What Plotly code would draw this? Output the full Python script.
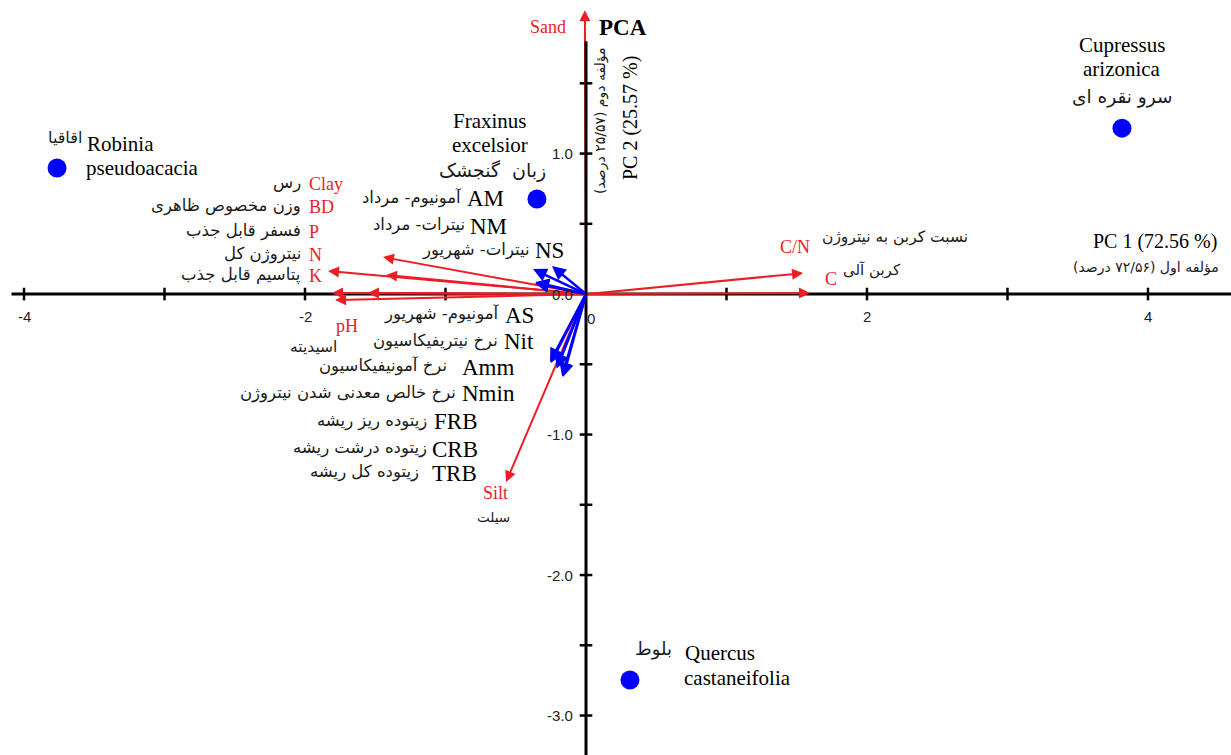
import plotly.graph_objects as go

# ---------------- data ----------------
species_en = ["Robinia<br>pseudoacacia", "Fraxinus<br>excelsior", "Cupressus<br>arizonica", "Quercus<br>castaneifolia"]
species_fa = ["اقاقیا", "زبان\u00a0\u00a0گنجشک", "سرو نقره ای", "بلوط"]
species_pc1 = [-3.765, -0.349, 3.815, 0.313]
species_pc2 = [0.897, 0.676, 1.181, -2.747]

soil_vars = ["Sand", "C/N", "C", "Silt", "N", "K", "Clay", "BD", "P", "pH"]
soil_pc1 = [-0.008, 1.545, 1.594, -0.569, -1.445, -1.836, -1.423, -1.808, -1.552, -1.786]
soil_pc2 = [2.02, 0.149, 0.007, -1.338, 0.263, 0.164, 0.135, 0.007, 0.007, -0.043]

n_vars = ["AM", "NM", "NS", "AS", "Nit", "Amm", "Nmin", "FRB", "CRB", "TRB"]
n_pc1 = [-0.377, -0.242, -0.363, -0.36, -0.256, -0.206, -0.164, -0.25, -0.21, -0.17]
n_pc2 = [0.178, 0.199, 0.078, 0.085, -0.484, -0.527, -0.591, -0.49, -0.53, -0.585]

x_ticks = [-4, -3, -2, -1, 1, 2, 3, 4]
x_tick_labels = ["-4", "", "-2", "", "", "2", "", "4"]
y_ticks = [1.5, 1.0, 0.5, 0.0, -0.5, -1.0, -1.5, -2.0, -2.5, -3.0]
y_tick_labels = ["", "1.0", "", "0.0", "", "-1.0", "", "-2.0", "", "-3.0"]

# ---------------- styling ----------------
W, H = 1231, 755
XR = [-4.171, 4.591]
YR = [-3.281, 2.093]
RED = "#ee1c24"
BLUE = "#0000ff"
SERIF = "Liberation Serif, Times New Roman, DejaVu Sans"
FA = "DejaVu Sans"
SANS = "Liberation Sans, Arial"

fig = go.Figure()
fig.add_trace(go.Scatter(x=species_pc1, y=species_pc2, mode="markers",
                         marker=dict(color=BLUE, size=19), hoverinfo="skip", showlegend=False))

ann = []

def arrow(x, y, color, width=2, head=2, x0=0, y0=0):
    ann.append(dict(x=x, y=y, ax=x0, ay=y0, xref="x", yref="y", axref="x", ayref="y",
                    text="", showarrow=True, arrowhead=head, arrowsize=1.1,
                    arrowwidth=width, arrowcolor=color, standoff=0, startstandoff=0))

# Sand arrow (under the black axis)
arrow(soil_pc1[0], soil_pc2[0], RED, 2)
# axes as plain lines
arrow(0, YR[0] - 0.05, "black", 3, head=0, x0=0, y0=1.81)
arrow(XR[1] + 0.05, 0, "black", 3, head=0, x0=-4.10, y0=0)

for i in range(1, len(soil_vars)):
    arrow(soil_pc1[i], soil_pc2[i], RED, 2)
for i in range(len(n_vars)):
    arrow(n_pc1[i], n_pc2[i], BLUE, 2.5)

shapes = []
for t in x_ticks:
    shapes.append(dict(type="line", xref="x", yref="y", x0=t, x1=t, y0=-0.045, y1=0.045,
                       line=dict(color="black", width=2.5)))
for t in y_ticks:
    if t == 0:
        continue
    shapes.append(dict(type="line", xref="x", yref="y", x0=-0.045, x1=0.045, y0=t, y1=t,
                       line=dict(color="black", width=2.5)))

for t, lab in zip(x_ticks, x_tick_labels):
    if lab:
        ann.append(dict(x=t, y=0, xref="x", yref="y", text=lab, showarrow=False,
                        yshift=-22, font=dict(family=SANS, size=15, color="#222")))
ann.append(dict(x=0, y=0, xref="x", yref="y", text="0", showarrow=False,
                xshift=5, yshift=-24, font=dict(family=SANS, size=15, color="#222")))
for t, lab in zip(y_ticks, y_tick_labels):
    if lab:
        ann.append(dict(x=0, y=t, xref="x", yref="y", text=lab, showarrow=False,
                        xanchor="right", xshift=-11, font=dict(family=SANS, size=15, color="#222")))

def label(px, py, text, size, color="black", anchor="left", family=SERIF, angle=0):
    ann.append(dict(x=px / W, y=1 - py / H, xref="paper", yref="paper", text=text,
                    showarrow=False, xanchor=anchor, yanchor="middle", textangle=angle,
                    font=dict(family=family, size=size, color=color)))

FA_COL = "#1a1a1a"

# titles
label(597, 27, "<b>PCA</b>", 23)
label(568, 27, soil_vars[0], 18, RED, "right")
label(630, 118, "PC 2 (25.57 %)", 20, anchor="center", angle=-90)
label(601, 121, "مؤلفه دوم (۲۵/۵۷ درصد)", 14, FA_COL, "center", FA, -90)
label(1219, 242, "PC 1 (72.56 %)", 20, anchor="right")
label(1221, 268, "مؤلفه اول (۷۲/۵۶ درصد)", 14, FA_COL, "right", FA)

# species labels (each line placed separately for tight line spacing)
sp_x = [85, 490, 1122, 683]
sp_y = [144, 121, 45, 653]
sp_gap = [24, 24, 24, 25]
sp_anchor = ["left", "center", "center", "left"]
for i, name in enumerate(species_en):
    for j, part in enumerate(name.split("<br>")):
        label(sp_x[i] - (1 if (sp_anchor[i] == "left" and j == 1) else 0),
              sp_y[i] + j * sp_gap[i], part, 21, anchor=sp_anchor[i])
label(84, 138, species_fa[0], 16, FA_COL, "right", FA)
label(492, 171, species_fa[1], 19, FA_COL, "center", FA)
label(1122, 97, species_fa[2], 18.5, FA_COL, "center", FA)
label(674, 649, species_fa[3], 18, FA_COL, "right", FA)

# soil labels
label(778, 247, soil_vars[1], 18, RED)
label(823, 279, soil_vars[2], 18, RED)
label(970, 238, "نسبت کربن به نیتروژن", 15.5, FA_COL, "right", FA)
label(903, 270, "کربن آلی", 15, FA_COL, "right", FA)
label(495, 493, soil_vars[3], 18, RED, "center")
label(493, 517, "سیلت", 13.5, FA_COL, "center", FA)
red_left = [("Clay", 184, "رس"), ("BD", 207, "وزن مخصوص ظاهری"), ("P", 232, "فسفر قابل جذب"),
            ("N", 255, "نیتروژن کل"), ("K", 276, "پتاسیم قابل جذب")]
for name, py, fa in red_left:
    label(307, py, name, 18, RED)
    label(303, py - 1, fa, 16.5, FA_COL, "right", FA)
label(347, 326, soil_vars[9], 18, RED, "center")
label(313, 347, "اسیدیته", 15.5, FA_COL, "center", FA)

# N-cycle labels
n_fa = ["آمونیوم- مرداد", "نیترات- مرداد", "نیترات- شهریور", "آمونیوم- شهریور", "نرخ نیتریفیکاسیون",
        "نرخ آمونیفیکاسیون", "نرخ خالص معدنی شدن نیتروژن", "زیتوده ریز ریشه", "زیتوده درشت ریشه",
        "زیتوده کل ریشه"]
n_lab_x = [465, 468, 533, 503, 502, 460, 460, 432, 430, 430]
n_lab_y = [199, 226, 251, 315, 342, 367, 394, 422, 449, 473]
n_fa_x = [464, 467, 532, 501, 500, 449, 458, 429, 429, 421]
for i in range(len(n_vars)):
    label(n_lab_x[i], n_lab_y[i], n_vars[i], 23)
    label(n_fa_x[i], n_lab_y[i] - 1, n_fa[i], 16.5, FA_COL, "right", FA)

fig.update_layout(
    width=W, height=H, margin=dict(l=0, r=0, t=0, b=0),
    paper_bgcolor="white", plot_bgcolor="white",
    xaxis=dict(range=XR, visible=False, showgrid=False, zeroline=False),
    yaxis=dict(range=YR, visible=False, showgrid=False, zeroline=False),
    annotations=ann, shapes=shapes,
)
fig.write_html("out.html", config={"displayModeBar": False},
               post_script="document.body.style.margin='0';")
